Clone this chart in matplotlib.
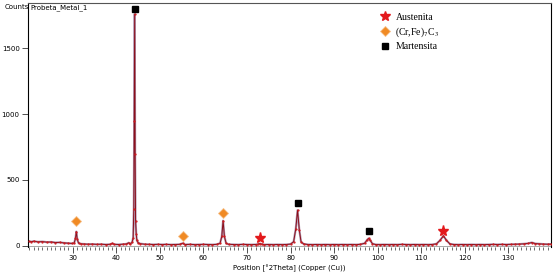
import matplotlib
matplotlib.use("Agg")
import matplotlib.pyplot as plt
from matplotlib.ticker import MultipleLocator
from matplotlib.lines import Line2D

two_theta = [20.0, 20.5, 21, 22, 23, 24, 25, 26, 27, 28, 29, 29.8, 30.3, 30.6, 30.8, 31.0, 31.3, 31.8,
             32.5, 33.5, 34.5, 35.5, 36.5, 37.5, 38.5, 39.1, 39.5, 40.5, 41.5, 42.3, 42.8, 43.2, 43.6,
             43.85, 44.0, 44.1, 44.2, 44.3, 44.4, 44.55, 44.7, 45.0, 45.5, 46.5, 47.5, 48.5, 49.5, 50.5,
             51.5, 52.5, 53.5, 54.5, 55.2, 55.8, 57, 58, 59, 60, 61, 62, 63, 63.8, 64.2, 64.5, 64.8,
             65.2, 65.8, 67, 68, 69, 70, 71, 72, 72.6, 73.0, 73.4, 74, 75, 76, 77, 78, 79, 80, 80.7,
             81.2, 81.6, 82.0, 82.4, 83, 84, 85, 86, 87, 88, 89, 90, 91, 92, 93, 94, 95, 96, 97, 97.6,
             97.9, 98.3, 98.8, 99.5, 100.5, 101.5, 102.5, 103.5, 104.5, 105.5, 106.5, 107.5, 108.5,
             109.5, 110.5, 111.5, 112.5, 113.5, 114.3, 115.1, 115.8, 116.6, 117.5, 118.5, 119.5, 120.5,
             121.5, 122.5, 123.5, 124.5, 125.5, 126.5, 127.5, 128.5, 129.5, 130.5, 131.5, 132.5, 133.5,
             134.5, 135.4, 136.2, 137, 138, 139, 139.8]
counts = [32, 30, 34, 29, 31, 27, 28, 24, 25, 21, 19, 17, 20, 55, 107, 50, 20, 14,
          13, 11, 12, 10, 11, 9, 10, 17, 10, 9, 11, 13, 22, 14, 25,
          60, 280, 950, 1760, 700, 190, 90, 40, 22, 15, 11, 10, 9, 10, 9,
          10, 8, 9, 10, 18, 9, 10, 8, 9, 10, 9, 8, 10, 18, 70, 190, 70,
          18, 10, 9, 8, 10, 9, 8, 9, 12, 16, 11, 8, 9, 8, 9, 8, 9, 12, 30,
          130, 270, 120, 30, 13, 9, 8, 9, 8, 9, 8, 9, 8, 9, 8, 9, 8, 10, 18, 45,
          55, 40, 15, 9, 8, 9, 8, 9, 8, 10, 9, 8, 9,
          8, 9, 8, 9, 14, 40, 75, 40, 13, 9, 8, 9, 8,
          9, 8, 9, 8, 9, 10, 9, 10, 9, 10, 11, 12, 14,
          17, 24, 16, 14, 12, 11, 12]

austenita_x = [73.0, 115.1]
austenita_y = [58, 112]
carbide_x = [30.8, 55.2, 64.4]
carbide_y = [188, 74, 248]
martensita_x = [44.2, 81.6, 97.9]
martensita_y = [1800, 324, 112]

plt.rcParams['mathtext.fontset'] = 'stix'

fig = plt.figure(figsize=(5.53, 2.72), dpi=100)
ax = fig.add_axes([28/553, 1-247/272, (551-28)/553, (247-3)/272])

ax.plot(two_theta, counts, color="#b49ab4", lw=1.6, zorder=2)
ax.plot(two_theta, counts, color="#8b0f1a", lw=0.7, zorder=3)
ax.plot(two_theta, counts, color="#d0181c", lw=0, marker='.', ms=1.2, zorder=3)

ax.plot(austenita_x, austenita_y, ls='none', marker='*', ms=8, color="#e3191c", zorder=5)
ax.plot(carbide_x, carbide_y, ls='none', marker='D', ms=5.5, color="#f08a24",
        markeredgecolor="#f6c08a", markeredgewidth=0.6, zorder=5)
ax.plot(martensita_x, martensita_y, ls='none', marker='s', ms=5, color="black", zorder=5)

ax.set_xlim(19.7, 139.8)
ax.set_ylim(-10, 1845)
ax.axhline(0, color="#999999", lw=0.6, zorder=1)

ax.spines["bottom"].set_visible(False)
for s in ["left", "top", "right"]:
    ax.spines[s].set_linewidth(0.8)
ax.spines["top"].set_color("#555555")

ax.xaxis.set_minor_locator(MultipleLocator(1))
ax.set_xticks([30, 40, 50, 60, 70, 80, 90, 100, 110, 120, 130])
ax.set_yticks([0, 500, 1000, 1500])
ax.tick_params(axis='x', which='major', length=4, width=0.6, labelsize=5, pad=2, color="#333333")
ax.tick_params(axis='x', which='minor', length=2.5, width=0.5, color="#333333")
ax.tick_params(axis='y', which='major', length=4, width=0.6, labelsize=5, pad=2, color="#333333")

ax.set_xlabel("Position [°2Theta] (Copper (Cu))", fontsize=5, labelpad=2)
fig.text(5/553, 1-9/272, "Counts", fontsize=5)
ax.text(0.004, 0.995, "Probeta_Metal_1", transform=ax.transAxes, fontsize=5, va='top', ha='left')

handles = [
    Line2D([], [], ls='none', marker='*', ms=7, color="#e3191c"),
    Line2D([], [], ls='none', marker='D', ms=5, color="#f08a24", markeredgecolor="#f6c08a", markeredgewidth=0.6),
    Line2D([], [], ls='none', marker='s', ms=4.5, color="black"),
]
labels = ["Austenita", r"(Cr,Fe)$_7$C$_3$", "Martensita"]
leg = ax.legend(handles, labels, loc='upper left', bbox_to_anchor=((375-28)/523, 1-5/244),
                frameon=False, handlelength=1.0, handletextpad=0.6, labelspacing=0.35,
                prop={'family': 'Liberation Serif', 'size': 7}, borderpad=0)

fig.savefig("out.png", dpi=100)
